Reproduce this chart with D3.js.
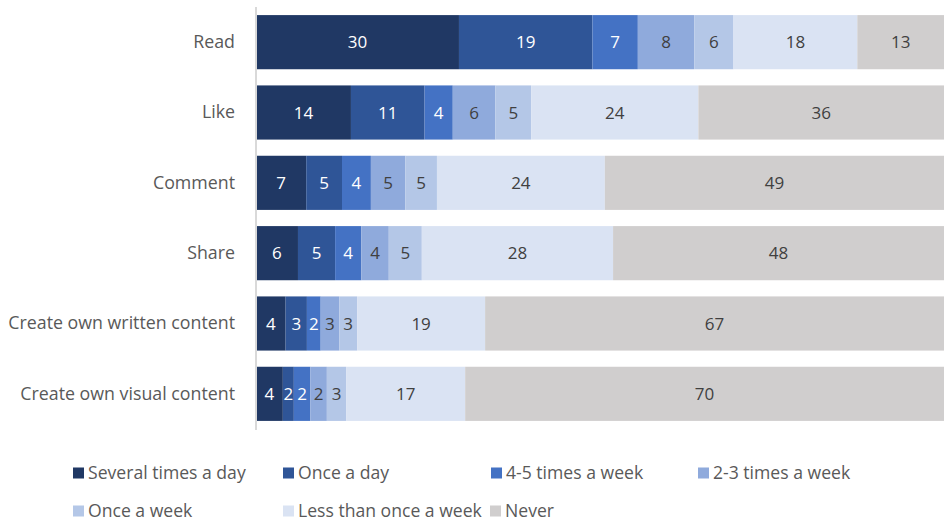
<!DOCTYPE html>
<html><head><meta charset="utf-8">
<script src="https://cdn.jsdelivr.net/npm/d3@7/dist/d3.min.js"></script>
<style>body{margin:0;background:#fff}svg{display:block}</style>
</head><body>
<svg id="c" width="944" height="521"></svg>
<script>
const categories = ["Read","Like","Comment","Share","Create own written content","Create own visual content"];
const seriesNames = ["Several times a day","Once a day","4-5 times a week","2-3 times a week","Once a week","Less than once a week","Never"];
// percentages (labels show rounded values)
const severalTimesADay = [29.5,13.8,7.3,6.1,4.3,3.9];
const onceADay = [19.4,10.7,5.2,5.4,3.1,1.6];
const fourFiveTimesAWeek = [6.6,4.1,4.2,3.8,2.0,2.4];
const twoThreeTimesAWeek = [8.2,6.2,5.0,4.0,2.7,2.4];
const onceAWeek = [5.7,5.2,4.6,4.8,2.6,2.8];
const lessThanOnceAWeek = [18.0,24.3,24.4,27.8,18.6,17.3];
const never = [12.6,35.7,49.3,48.1,66.7,69.6];
const seriesValues = [severalTimesADay,onceADay,fourFiveTimesAWeek,twoThreeTimesAWeek,onceAWeek,lessThanOnceAWeek,never];
const colors = ["#203864","#2F5597","#4472C4","#8FAADC","#B4C7E7","#DAE3F3","#D0CECE"];
const labelColors = ["#fff","#fff","#fff","#404040","#404040","#404040","#404040"];

const svg = d3.select("#c");
const FONT = "'Open Sans', sans-serif";
const x = d3.scaleLinear().domain([0,100]).range([256,944]);
const y = d3.scaleBand().domain(categories).range([7,429]).paddingInner(0.23).paddingOuter(0.115);

const rows = categories.map((c,i)=>{const o={cat:c}; seriesNames.forEach((s,j)=>o[s]=seriesValues[j][i]); return o;});
const stack = d3.stack().keys(seriesNames)(rows);

const g = svg.append("g");
stack.forEach((layer,j)=>{
  const lg = g.append("g");
  lg.selectAll("rect").data(layer).join("rect")
    .attr("x",d=>x(d[0])).attr("width",d=>x(d[1])-x(d[0]))
    .attr("y",d=>y(d.data.cat)).attr("height",y.bandwidth())
    .attr("fill",colors[j]);
  lg.selectAll("text").data(layer).join("text")
    .attr("x",d=>(x(d[0])+x(Math.min(d[1],100)))/2)
    .attr("y",d=>y(d.data.cat)+y.bandwidth()/2)
    .attr("dy","0.36em").attr("text-anchor","middle")
    .attr("font-family",FONT).attr("font-size",17)
    .attr("fill",labelColors[j])
    .text(d=>Math.round(d[1]-d[0]));
});

// axis
const ax = svg.append("g").attr("transform","translate(256,0)")
  .call(d3.axisLeft(y).tickSize(0).tickPadding(21));
ax.select(".domain").attr("stroke","#d9d9d9").attr("stroke-width",2).attr("d","M0,7V430");
ax.selectAll("text").attr("font-family",FONT).attr("font-size",17.8).attr("fill","#595959");

// legend
const legendPos = [[73,473],[283,473],[491,473],[698,473],[73,511],[283,511],[490,511]];
const lg = svg.append("g");
seriesNames.forEach((s,j)=>{
  const [lx,ly]=legendPos[j];
  lg.append("rect").attr("x",lx).attr("y",ly-5.5).attr("width",11).attr("height",11).attr("fill",colors[j]);
  lg.append("text").attr("x",lx+15).attr("y",ly).attr("dy","0.36em")
    .attr("font-family",FONT).attr("font-size",17.6).attr("fill","#595959").text(s);
});
</script>
</body></html>
